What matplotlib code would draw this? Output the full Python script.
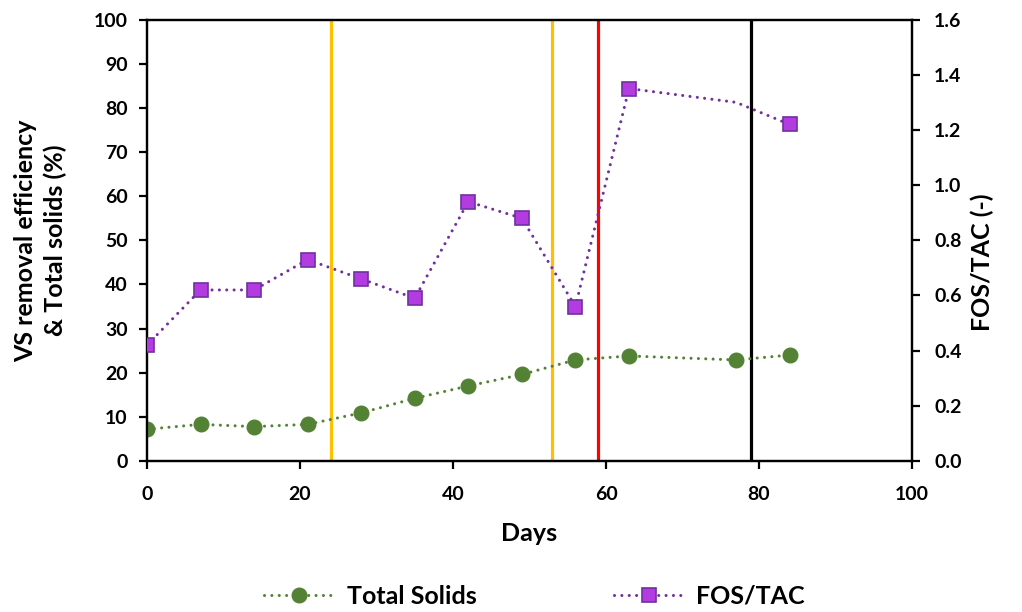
import matplotlib
matplotlib.use("Agg")
import matplotlib.pyplot as plt

plt.rcParams["font.family"] = ["Lato", "DejaVu Sans"]
plt.rcParams["font.weight"] = "bold"

# sampling days
days = [0, 7, 14, 21, 28, 35, 42, 49, 56, 63, 77, 84]
total_solids = [7.2, 8.3, 7.8, 8.3, 10.9, 14.2, 17.0, 19.6, 22.9, 23.8, 22.9, 24.0]
fos_tac = [0.42, 0.62, 0.62, 0.73, 0.66, 0.59, 0.94, 0.88, 0.56, 1.35, 1.30, 1.22]
# day 77 of FOS/TAC has no marker
fos_marked = [0, 1, 2, 3, 4, 5, 6, 7, 8, 9, 11]

# phase changes
phase_days = [24, 53, 59, 79]
phase_colors = ["#FFC000", "#FFC000", "#FF0000", "#000000"]

x_ticks = [0, 20, 40, 60, 80, 100]
left_ticks = [0, 10, 20, 30, 40, 50, 60, 70, 80, 90, 100]
right_ticks = [0.0, 0.2, 0.4, 0.6, 0.8, 1.0, 1.2, 1.4, 1.6]

fig = plt.figure(figsize=(10.22, 6.12), dpi=100)
ax = fig.add_axes([0.1438, 0.2467, 0.7486, 0.7213])
ax2 = ax.twinx()

for d, c in zip(phase_days, phase_colors):
    ax.axvline(d, color=c, linewidth=2.3, zorder=1)

dots = (0, (0.01, 2.4))
l1, = ax.plot(days, total_solids, color="#548235", linestyle=dots, linewidth=2.2,
              dash_capstyle="round", marker="o", markersize=10.5,
              markerfacecolor="#548235", markeredgecolor="#548235",
              label="Total Solids", zorder=3)
l2, = ax2.plot(days, fos_tac, color="#7030A0", linestyle=dots, linewidth=2.2,
               dash_capstyle="round", marker="s", markersize=10,
               markevery=fos_marked, markerfacecolor="#B23CE0",
               markeredgecolor="#7030A0", markeredgewidth=1.2,
               label="FOS/TAC", zorder=3)

ax.set_xlim(0, 100)
ax.set_ylim(0, 100)
ax2.set_ylim(0, 1.6)
ax.set_xticks(x_ticks)
ax.set_yticks(left_ticks)
ax2.set_yticks(right_ticks)
ax2.set_yticklabels([f"{v:.1f}" for v in right_ticks])

for a in (ax, ax2):
    for s in a.spines.values():
        s.set_linewidth(1.6)
    a.tick_params(width=1.6, length=6, labelsize=14, direction="out")
ax.tick_params(axis="x", pad=12)
ax.tick_params(axis="y", pad=8)
ax2.tick_params(axis="y", pad=10)

ax.set_xlabel("Days", fontsize=18, fontweight="bold", labelpad=14)
ax.set_ylabel("VS removal efficiency\n& Total solids (%)", fontsize=18,
              fontweight="bold", linespacing=1.35)
ax.yaxis.set_label_coords(-0.104, 0.5)
ax2.set_ylabel("FOS/TAC (-)", fontsize=18, fontweight="bold")
ax2.yaxis.set_label_coords(1.076, 0.45)

fig.legend(handles=[l1, l2], loc="center", bbox_to_anchor=(0.523, 0.026),
           ncol=2, frameon=False, handlelength=2.8, handletextpad=0.5,
           columnspacing=5.5, prop={"weight": "bold", "size": 18})

fig.savefig("out.png", dpi=100)
